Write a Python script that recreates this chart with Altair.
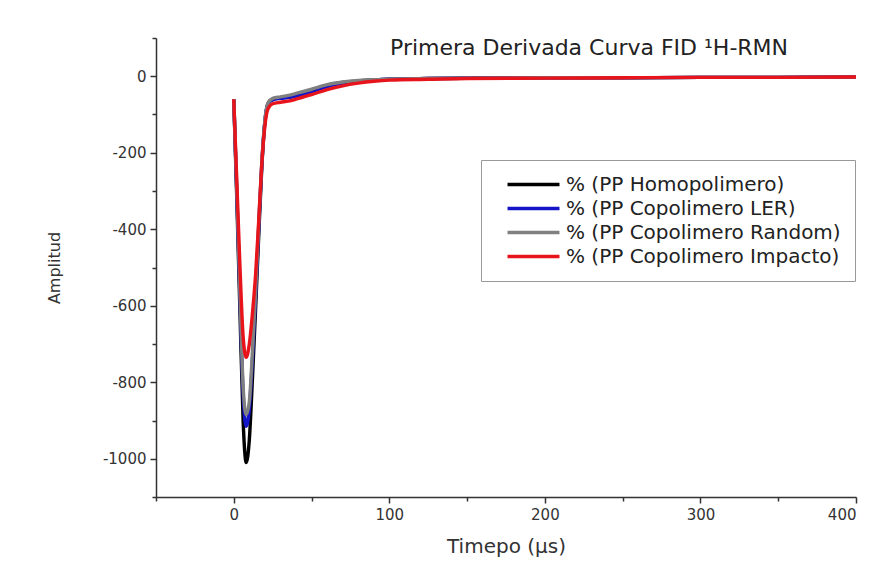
import altair as alt
import pandas as pd

# Time axis (µs) shared by all series
tiempo = [0, 2, 4, 6, 8, 10, 12, 14, 16, 18, 20, 22, 25, 30, 35, 40, 50, 60, 70, 80, 90,
          100, 125, 150, 200, 250, 300, 350, 400]

series_names = [
    "% (PP Homopolimero)",
    "% (PP Copolimero LER)",
    "% (PP Copolimero Random)",
    "% (PP Copolimero Impacto)",
]
series_colors = ["#000000", "#1414c8", "#808080", "#e8141c"]

homopolimero = [-60, -330, -620, -900, -1010, -950, -790, -610, -420, -240, -120, -72, -60, -56, -53, -48,
                -36, -24, -16, -12, -10, -8, -6, -5, -4, -4, -3, -3, -2]
copolimero_ler = [-60, -310, -580, -830, -915, -870, -740, -580, -400, -230, -118, -72, -62, -58, -56, -52,
                  -40, -27, -18, -13, -10, -8, -6, -5, -4, -4, -3, -3, -2]
copolimero_random = [-60, -305, -570, -810, -885, -850, -720, -565, -390, -225, -115, -70, -58, -54, -50, -45,
                     -34, -22, -15, -11, -9, -8, -6, -5, -4, -4, -3, -3, -2]
copolimero_impacto = [-60, -280, -500, -680, -735, -700, -620, -520, -380, -230, -130, -85, -72, -68, -65, -60,
                      -48, -35, -25, -18, -13, -10, -8, -6, -5, -4, -3, -3, -2]

titulo = "Primera Derivada Curva FID \u00b9H-RMN"

rows = []
for name, vals in zip(series_names, [homopolimero, copolimero_ler, copolimero_random, copolimero_impacto]):
    for t, v in zip(tiempo, vals):
        rows.append({"t": t, "amp": v, "serie": name, "orden": series_names.index(name)})
df = pd.DataFrame(rows)

font = "DejaVu Sans"

lines = alt.Chart(df).mark_line(strokeWidth=3.4, interpolate="monotone").encode(
    x=alt.X("t:Q", title="Timepo (\u00b5s)",
            scale=alt.Scale(domain=[-50, 400], nice=False, zero=False),
            axis=alt.Axis(values=list(range(-50, 401, 50)),
                          labelExpr="datum.value % 100 === 0 ? '' + datum.value : ''",
                          tickSize={"condition": {"test": "datum.value % 100 === 0", "value": 6}, "value": 4},
                          grid=False, domainColor="#333", domainWidth=1.5, tickColor="#333",
                          tickWidth=1.5, labelFontSize=15, labelColor="#333", labelFont=font,
                          labelPadding=4, titleFont=font, titleFontSize=20, titleFontWeight="normal",
                          titleColor="#333", titlePadding=14)),
    y=alt.Y("amp:Q", title="Amplitud",
            scale=alt.Scale(domain=[-1100, 100], nice=False, zero=False),
            axis=alt.Axis(values=list(range(-1100, 101, 100)),
                          labelExpr="datum.value % 200 === 0 ? '' + datum.value : ''",
                          tickSize={"condition": {"test": "datum.value % 200 === 0", "value": 6}, "value": 4},
                          grid=False, domainColor="#333", domainWidth=1.5, tickColor="#333",
                          tickWidth=1.5, labelFontSize=15, labelColor="#333", labelFont=font,
                          labelPadding=4, titleFont=font, titleFontSize=16, titleFontWeight="normal",
                          titleColor="#333", titlePadding=40)),
    color=alt.Color("serie:N",
                    scale=alt.Scale(domain=series_names, range=series_colors),
                    sort=series_names,
                    legend=alt.Legend(title=None, orient="none", legendX=325, legendY=122,
                                      symbolType="M-3,0H3", symbolSize=300, symbolStrokeWidth=3.5,
                                      labelFontSize=20, labelFont=font, labelColor="#222",
                                      strokeColor="#999", padding=14, symbolOffset=28,
                                      labelOffset=22, rowPadding=3, labelLimit=500)),
    order=alt.Order("orden:Q"),
    detail="serie:N",
)

title_text = alt.Chart(pd.DataFrame({"txt": [titulo]})).mark_text(
    align="left", baseline="middle", fontSize=22, font=font, color="#222"
).encode(x=alt.value(234), y=alt.value(10), text="txt:N")

chart = alt.layer(lines, title_text).properties(
    width=700, height=459,
    autosize=alt.AutoSizeParams(type="none"),
    padding={"left": 156, "top": 38, "right": 21, "bottom": 66},
    background="white",
).configure_view(stroke=None)

chart.save("out.html", embed_options={"renderer": "svg", "actions": False})
